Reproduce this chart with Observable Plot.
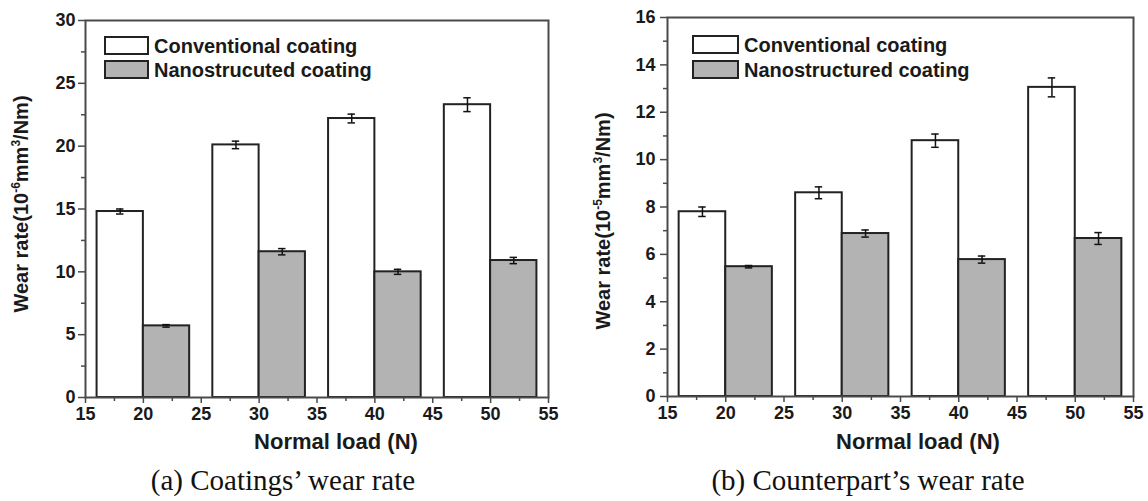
<!DOCTYPE html>
<html>
<head>
<meta charset="utf-8">
<script src="https://cdn.jsdelivr.net/npm/d3@7"></script>
<script src="https://cdn.jsdelivr.net/npm/@observablehq/plot@0.6"></script>
<style>
  html, body { margin: 0; padding: 0; background: #fff; overflow: hidden; }
  #wrap { position: relative; width: 1148px; height: 501px; }
  .panel { position: absolute; top: 0; }
  .cap { position: absolute; font-family: "Liberation Serif", "Times New Roman", serif; font-size: 29px; line-height: 1; text-align: center; color: #111; white-space: nowrap; }
</style>
</head>
<body>
<div id="wrap">
  <div id="pa" class="panel" style="left:0px"></div>
  <div id="pb" class="panel" style="left:574px"></div>
  <div class="cap" style="left:83px;width:400px;top:466px">(a) Coatings’ wear rate</div>
  <div class="cap" style="left:668px;width:400px;top:466px">(b) Counterpart’s wear rate</div>
</div>
<script>
// ---- data ----
const loads = [20, 30, 40, 50];
const seriesNames = ["Conventional coating", "Nanostructured coating"];
const legendNamesA = ["Conventional coating", "Nanostrucuted coating"];
const legendNamesB = ["Conventional coating", "Nanostructured coating"];

// (a) coatings' wear rate, 10^-6 mm^3/Nm
const convRateA = [14.8, 20.1, 22.2, 23.3];
const convErrA  = [0.2, 0.3, 0.35, 0.55];
const nanoRateA = [5.7, 11.6, 10.0, 10.9];
const nanoErrA  = [0.1, 0.25, 0.2, 0.25];

// (b) counterpart's wear rate, 10^-5 mm^3/Nm
const convRateB = [7.8, 8.6, 10.8, 13.05];
const convErrB  = [0.2, 0.25, 0.28, 0.4];
const nanoRateB = [5.48, 6.88, 5.78, 6.67];
const nanoErrB  = [0.05, 0.15, 0.15, 0.25];

const xTicks = [15, 20, 25, 30, 35, 40, 45, 50, 55];
const xMinor = [17.5, 22.5, 27.5, 32.5, 37.5, 42.5, 47.5, 52.5];
const yTicksA = [0, 5, 10, 15, 20, 25, 30];
const yMinorA = [2.5, 7.5, 12.5, 17.5, 22.5, 27.5];
const yTicksB = [0, 2, 4, 6, 8, 10, 12, 14, 16];
const yMinorB = [1, 3, 5, 7, 9, 11, 13, 15];

const barWidth = 4; // in N units

function rowsFor(conv, convErr, nano, nanoErr) {
  const rows = [];
  loads.forEach((l, i) => {
    rows.push({load: l, series: seriesNames[0], x1: l - barWidth, x2: l, v: conv[i], e: convErr[i]});
    rows.push({load: l, series: seriesNames[1], x1: l, x2: l + barWidth, v: nano[i], e: nanoErr[i]});
  });
  return rows;
}

const SANS = "'Liberation Sans', Arial, Helvetica, sans-serif";
const AXIS = "#4a4a4a";
const GRAY = "#b3b3b3";

function makeChart(cfg) {
  const rows = rowsFor(cfg.conv, cfg.convErr, cfg.nano, cfg.nanoErr);
  const mid = d => (d.x1 + d.x2) / 2;
  const capHalf = 0.32;
  const plot = Plot.plot({
    width: 574,
    height: 462,
    marginLeft: cfg.ml,
    marginRight: cfg.mr,
    marginTop: cfg.mt,
    marginBottom: cfg.mb,
    style: {fontFamily: SANS, fontWeight: "bold", fontSize: "18px", color: "#1a1a1a", background: "white"},
    x: {domain: [15, 55], label: null},
    y: {domain: [0, cfg.yMax], label: null},
    marks: [
      Plot.rectY(rows.filter(d => d.series === seriesNames[0]), {x1: "x1", x2: "x2", y: "v", fill: "white", stroke: "#222", strokeWidth: 2}),
      Plot.rectY(rows.filter(d => d.series === seriesNames[1]), {x1: "x1", x2: "x2", y: "v", fill: GRAY, stroke: "#222", strokeWidth: 2}),
      Plot.ruleX(rows, {x: mid, y1: d => d.v - d.e, y2: d => d.v + d.e, stroke: "#111", strokeWidth: 1.5}),
      Plot.ruleY(rows, {y: d => d.v + d.e, x1: d => mid(d) - capHalf, x2: d => mid(d) + capHalf, stroke: "#111", strokeWidth: 1.5}),
      Plot.ruleY(rows, {y: d => d.v - d.e, x1: d => mid(d) - capHalf, x2: d => mid(d) + capHalf, stroke: "#111", strokeWidth: 1.5}),
      Plot.frame({stroke: AXIS, strokeWidth: 2}),
      Plot.axisX(xTicks, {tickSize: 6, tickPadding: 4, stroke: AXIS, strokeWidth: 1.5, fill: "#1a1a1a", fontSize: 18, fontWeight: "bold", label: null}),
      Plot.axisX(xMinor, {tickSize: 4, stroke: AXIS, strokeWidth: 1.5, fill: "none", label: null}),
      Plot.axisY(cfg.yTicks, {tickSize: 7, tickPadding: cfg.tp, stroke: AXIS, strokeWidth: 1.5, fill: "#1a1a1a", fontSize: 18, fontWeight: "bold", label: null}),
      Plot.axisY(cfg.yMinor, {tickSize: 4, stroke: AXIS, strokeWidth: 1.5, fill: "none", label: null})
    ]
  });
  const svg = d3.select(plot);
  // axis titles
  const yl = svg.append("text")
    .attr("transform", `translate(${cfg.ylx},${cfg.yly}) rotate(-90)`)
    .attr("text-anchor", "middle")
    .attr("font-family", SANS).attr("font-weight", "bold").attr("font-size", 20)
    .attr("fill", "#1a1a1a");
  yl.append("tspan").text("Wear rate(10");
  yl.append("tspan").attr("font-size", 12).attr("dy", -8).text(cfg.exp);
  yl.append("tspan").attr("dy", 8).text("mm");
  yl.append("tspan").attr("font-size", 12).attr("dy", -8).text("3");
  yl.append("tspan").attr("dy", 8).text("/Nm)");
  svg.append("text")
    .attr("x", cfg.xlx).attr("y", 449)
    .attr("text-anchor", "middle")
    .attr("font-family", SANS).attr("font-weight", "bold").attr("font-size", 22)
    .attr("fill", "#1a1a1a")
    .text("Normal load (N)");
  // legend
  const lg = svg.append("g");
  [[cfg.lgY[0], "white"], [cfg.lgY[1], GRAY]].forEach(([y, fill], i) => {
    lg.append("rect").attr("x", cfg.lgX).attr("y", y).attr("width", cfg.lgW).attr("height", 17)
      .attr("fill", fill).attr("stroke", "#222").attr("stroke-width", 2);
    lg.append("text").attr("x", cfg.lgX + cfg.lgW + 6).attr("y", y + 16)
      .attr("text-anchor", "start")
      .attr("font-family", SANS).attr("font-weight", "bold").attr("font-size", 20)
      .attr("fill", "#1a1a1a")
      .text(cfg.legend[i]);
  });
  return plot;
}

document.getElementById("pa").appendChild(makeChart({
  conv: convRateA, convErr: convErrA, nano: nanoRateA, nanoErr: nanoErrA,
  yMax: 30, yTicks: yTicksA, yMinor: yMinorA,
  ml: 85, mr: 26, mt: 20, mb: 65, tp: 3,
  ylx: 28, yly: 204, exp: "-6", xlx: 336,
  lgX: 105, lgW: 43, lgY: [37, 61], legend: legendNamesA
}));
document.getElementById("pb").appendChild(makeChart({
  conv: convRateB, convErr: convErrB, nano: nanoRateB, nanoErr: nanoErrB,
  yMax: 16, yTicks: yTicksB, yMinor: yMinorB,
  ml: 93, mr: 15, mt: 17, mb: 66, tp: 5,
  ylx: 36, yly: 221, exp: "-5", xlx: 344,
  lgX: 119, lgW: 45, lgY: [36, 61], legend: legendNamesB
}));
</script>
</body>
</html>
